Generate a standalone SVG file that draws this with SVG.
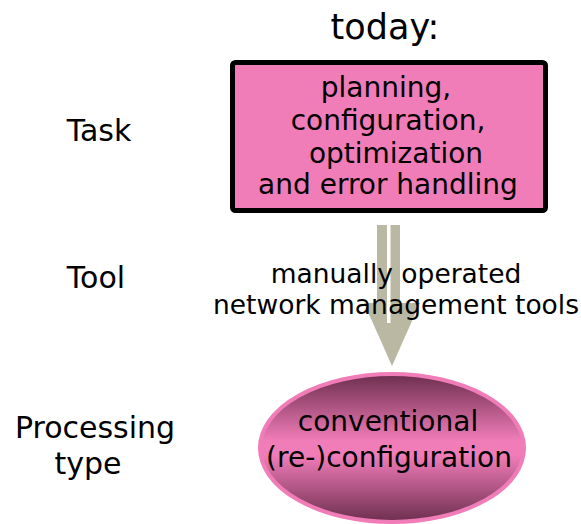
<svg xmlns="http://www.w3.org/2000/svg" width="581" height="524" viewBox="0 0 581 524">
<defs>
<style>
text{font-family:"DejaVu Sans","Liberation Sans",sans-serif;fill:#000;text-anchor:middle}
.lbl{font-size:30px}
.box{font-size:28px}
.tool{font-size:26.5px}
</style>
<linearGradient id="eg" x1="0" y1="0" x2="0" y2="1">
<stop offset="0" stop-color="#6c2e4e"/>
<stop offset="0.45" stop-color="#f07cb8"/>
<stop offset="0.55" stop-color="#f07cb8"/>
<stop offset="1" stop-color="#6c2e4e"/>
</linearGradient>
</defs>
<rect width="581" height="524" fill="#fff"/>
<text x="385" y="39" style="font-size:35px">today:</text>
<g id="labels">
<text class="lbl" x="99" y="141">Task</text>
<text class="lbl" x="96" y="288">Tool</text>
<text class="lbl" x="95" y="438">Processing</text>
<text class="lbl" x="88" y="474">type</text>
</g>
<g id="connectors">
<polygon points="377,225 400,225 400,303 420,303 392,366 364,303 377,303" fill="#bab8a2"/>
<rect x="387" y="225" width="3.5" height="98" fill="#fff"/>
</g>
<g id="task">
<rect x="232.5" y="62.5" width="313" height="148" rx="3" fill="#f07cb8" stroke="#000" stroke-width="5"/>
<text class="box" x="386" y="97">planning,</text>
<text class="box" x="388" y="130">configuration,</text>
<text class="box" x="396" y="163">optimization</text>
<text class="box" x="388" y="194">and error handling</text>
</g>
<g id="tool">
<text class="tool" x="396" y="283">manually operated</text>
<text class="tool" x="396" y="314">network management tools</text>
</g>
<g id="processing">
<ellipse cx="392" cy="448" rx="132" ry="74" fill="url(#eg)" stroke="#f07cb8" stroke-width="4"/>
<text class="box" x="388" y="431">conventional</text>
<text class="box" x="389" y="467">(re-)configuration</text>
</g>
</svg>
